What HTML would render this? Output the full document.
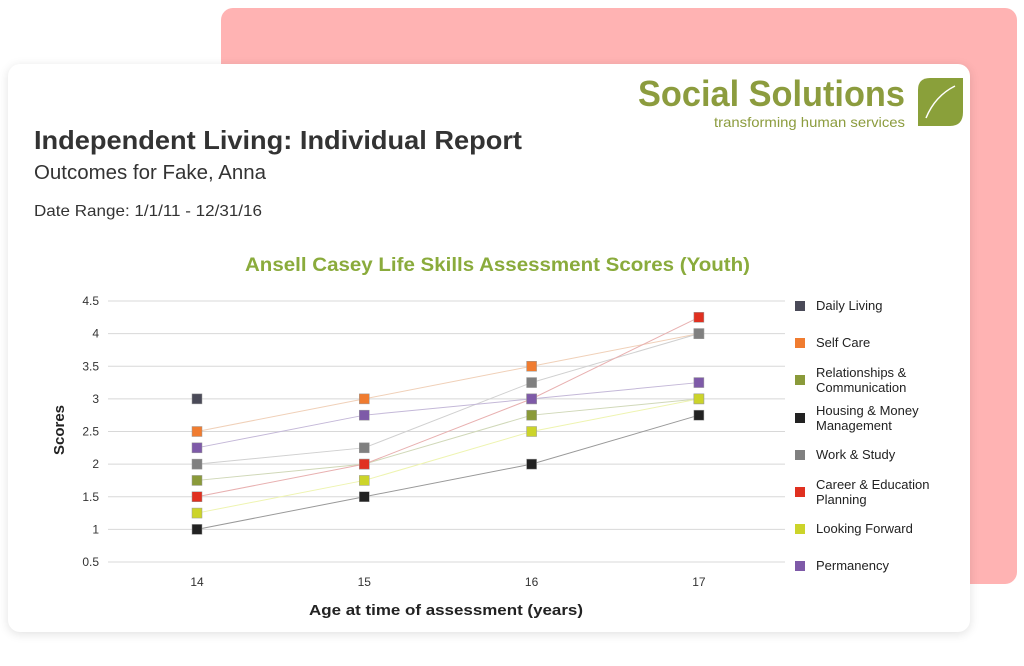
<!DOCTYPE html>
<html><head><meta charset="utf-8"><style>
html,body{margin:0;padding:0;background:#fff;width:1024px;height:666px;overflow:hidden;font-family:"Liberation Sans",sans-serif}
#bg{position:absolute;left:221px;top:8px;width:796px;height:576px;background:#ffb3b3;border-radius:12px}
#card{position:absolute;left:8px;top:64px;width:962px;height:568px;background:#fff;border-radius:12px;box-shadow:0 2px 10px rgba(0,0,0,0.12)}
svg{position:absolute;left:0;top:0}
</style></head><body>
<div id="bg"></div>
<div id="card"></div>
<svg width="1024" height="666">
<g>
<text x="638" y="106" font-size="36" font-weight="bold" fill="#8c9c3e" textLength="267" lengthAdjust="spacingAndGlyphs">Social Solutions</text>
<text x="714" y="127" font-size="14" fill="#8c9c3e" textLength="191" lengthAdjust="spacingAndGlyphs">transforming human services</text>
<path d="M918 126 L918 90 Q918 78 930 78 L963 78 L963 112 Q963 126 950 126 Z" fill="#8aa03a"/>
<path d="M926 118 Q935 96 955 86" stroke="#fff" stroke-width="1.5" fill="none"/>
</g>
<text x="34" y="149" font-size="26" font-weight="bold" fill="#333" textLength="488" lengthAdjust="spacingAndGlyphs">Independent Living: Individual Report</text>
<text x="34" y="179" font-size="20" fill="#333" textLength="232" lengthAdjust="spacingAndGlyphs">Outcomes for Fake, Anna</text>
<text x="34" y="216" font-size="16" fill="#333" textLength="228" lengthAdjust="spacingAndGlyphs">Date Range: 1/1/11 - 12/31/16</text>
<text x="245" y="271" font-size="19" font-weight="bold" fill="#8aab3c" textLength="505" lengthAdjust="spacingAndGlyphs">Ansell Casey Life Skills Assessment Scores (Youth)</text>
<g id="grid"></g><g id="lines"></g><g id="marks"></g><g id="legend"></g>
<text transform="translate(64,430) rotate(-90)" font-size="15" font-weight="bold" fill="#222" text-anchor="middle">Scores</text>
<text x="309" y="615" font-size="15" font-weight="bold" fill="#222" textLength="274" lengthAdjust="spacingAndGlyphs">Age at time of assessment (years)</text>
</svg>
<script>
const categories=[14,15,16,17];
const yTicks=[0.5,1,1.5,2,2.5,3,3.5,4,4.5];
const seriesNames=["Daily Living","Self Care","Relationships & Communication","Housing & Money Management","Work & Study","Career & Education Planning","Looking Forward","Permanency"];
const dailyLiving=[3,null,null,null];
const selfCare=[2.5,3,3.5,4];
const relationships=[1.75,2,2.75,3];
const housing=[1,1.5,2,2.75];
const workStudy=[2,2.25,3.25,4];
const career=[1.5,2,3,4.25];
const lookingForward=[1.25,1.75,2.5,3];
const permanency=[2.25,2.75,3,3.25];
const series=[dailyLiving,selfCare,relationships,housing,workStudy,career,lookingForward,permanency];
const colors=["#4a4a58","#f07c30","#8a9a3a","#222222","#808080","#e03020","#ccd42a","#7e5aa8"];
const lineColors=["#aaa","#f0d0b8","#d0d8b8","#999","#d0d0d0","#e8b0b0","#eef4b0","#c4b8d8"];
const NS="http://www.w3.org/2000/svg";
const x=v=>197+(v-14)*167.3;
const y=v=>301+(4.5-v)*65.25;
function mk(t,a,p){const e=document.createElementNS(NS,t);for(const k in a)e.setAttribute(k,a[k]);p.appendChild(e);return e;}
const grid=document.getElementById('grid');
yTicks.forEach(t=>{
 const l=mk('line',{x1:108,x2:785,y1:y(t),y2:y(t),stroke:'#d8d8d8','stroke-width':1},grid);
 
 
 const tx=mk('text',{x:99,y:y(t)+4,'font-size':12,fill:'#333','text-anchor':'end'},grid);tx.textContent=t;
 
 
});
categories.forEach(c=>{
 const tx=mk('text',{x:x(c),y:586,'font-size':12,fill:'#333','text-anchor':'middle'},grid);tx.textContent=c;
 
 
});
const lines=document.getElementById('lines'),marks=document.getElementById('marks');
series.forEach((s,i)=>{
 let pts=[];s.forEach((v,j)=>{if(v!=null)pts.push(x(categories[j])+','+y(v));});
 if(pts.length>1){const p=mk('polyline',{points:pts.join(' '),fill:'none',stroke:lineColors[i],'stroke-width':1},lines);
 
 }
});
series.forEach((s,i)=>{
 s.forEach((v,j)=>{if(v==null)return;
  const r=mk('rect',{x:x(categories[j])-5,y:y(v)-5,width:10,height:10,fill:colors[i],stroke:'#999','stroke-width':0.5},marks);
  
  
 });
});
const lg=document.getElementById('legend');
const legY=[306,343,380,418,455,492,529,566];
const legLines=[["Daily Living"],["Self Care"],["Relationships &","Communication"],["Housing & Money","Management"],["Work & Study"],["Career & Education","Planning"],["Looking Forward"],["Permanency"]];
legLines.forEach((ls,i)=>{
 const r=mk('rect',{x:795,y:legY[i]-5,width:10,height:10,fill:colors[i]},lg);
 
 
 ls.forEach((t,k)=>{
  const off=ls.length>1?(k===0?-3:12):4;
  const tx=mk('text',{x:816,y:legY[i]+off,'font-size':13,fill:'#222'},lg);tx.textContent=t;
  
  
 });
});
</script>
</body></html>
